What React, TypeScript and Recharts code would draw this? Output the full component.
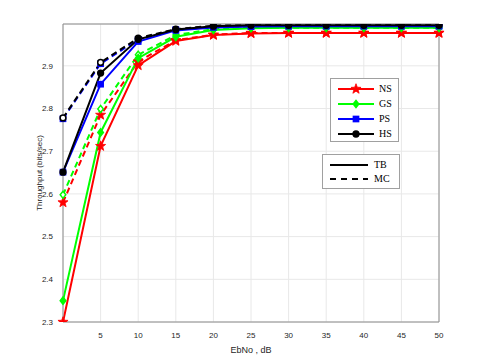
import { CartesianGrid, Line, LineChart, ReferenceLine, XAxis, YAxis } from 'recharts';

const ebno = [0, 5, 10, 15, 20, 25, 30, 35, 40, 45, 50];
const nsTB = [2.3, 2.712, 2.901, 2.958, 2.972, 2.976, 2.977, 2.977, 2.977, 2.977, 2.977];
const nsMC = [2.58, 2.785, 2.91, 2.96, 2.973, 2.977, 2.977, 2.977, 2.977, 2.977, 2.977];
const gsTB = [2.35, 2.744, 2.918, 2.968, 2.984, 2.988, 2.989, 2.989, 2.989, 2.989, 2.989];
const gsMC = [2.598, 2.799, 2.926, 2.972, 2.986, 2.989, 2.989, 2.989, 2.989, 2.989, 2.989];
const psTB = [2.651, 2.857, 2.957, 2.983, 2.99, 2.992, 2.993, 2.993, 2.993, 2.993, 2.993];
const psMC = [2.776, 2.905, 2.962, 2.985, 2.991, 2.993, 2.993, 2.993, 2.993, 2.993, 2.993];
const hsTB = [2.651, 2.883, 2.962, 2.985, 2.993, 2.995, 2.995, 2.995, 2.995, 2.995, 2.995];
const hsMC = [2.778, 2.908, 2.965, 2.986, 2.994, 2.995, 2.995, 2.995, 2.995, 2.995, 2.995];

const xTicks = [5, 10, 15, 20, 25, 30, 35, 40, 45, 50];
const yTicks = [2.3, 2.4, 2.5, 2.6, 2.7, 2.8, 2.9];

const data = ebno.map((x, i) => ({
  x,
  nsTB: nsTB[i], nsMC: nsMC[i],
  gsTB: gsTB[i], gsMC: gsMC[i],
  psTB: psTB[i], psMC: psMC[i],
  hsTB: hsTB[i], hsMC: hsMC[i]
}));

type Kind = 'star' | 'diamond' | 'square' | 'circle';

function Marker({ kind, cx, cy, color, fill }: { kind: Kind; cx: number; cy: number; color: string; fill: string }) {
  if (kind === 'star') {
    const pts: string[] = [];
    for (let k = 0; k < 10; k++) {
      const r = k % 2 === 0 ? 5.3 : 2.2;
      const a = -Math.PI / 2 + (k * Math.PI) / 5;
      pts.push(`${cx + r * Math.cos(a)},${cy + r * Math.sin(a)}`);
    }
    return <polygon points={pts.join(' ')} fill={color} stroke={color} strokeWidth={0.8} />;
  }
  if (kind === 'diamond') {
    return (
      <polygon
        points={`${cx},${cy - 3.6} ${cx + 2.8},${cy} ${cx},${cy + 3.6} ${cx - 2.8},${cy}`}
        fill={fill}
        stroke={color}
        strokeWidth={1.5}
      />
    );
  }
  if (kind === 'square') {
    return <rect x={cx - 2.6} y={cy - 2.6} width={5.2} height={5.2} fill={fill} stroke={color} strokeWidth={1.5} />;
  }
  return <circle cx={cx} cy={cy} r={2.9} fill={fill} stroke={color} strokeWidth={1.5} />;
}

const dotFor = (name: string, kind: Kind, color: string, fill: string) => (props: any) => (
  <Marker key={`${name}-${props.index}`} kind={kind} cx={props.cx} cy={props.cy} color={color} fill={fill} />
);

// dashed (MC) curves first so the solid (TB) curves sit on top
const series = [
  { key: 'nsMC', color: '#ff0000', kind: 'star' as Kind, dashed: true },
  { key: 'gsMC', color: '#00ff00', kind: 'diamond' as Kind, dashed: true },
  { key: 'psMC', color: '#0000ff', kind: 'square' as Kind, dashed: true },
  { key: 'hsMC', color: '#000000', kind: 'circle' as Kind, dashed: true },
  { key: 'nsTB', color: '#ff0000', kind: 'star' as Kind, dashed: false },
  { key: 'gsTB', color: '#00ff00', kind: 'diamond' as Kind, dashed: false },
  { key: 'psTB', color: '#0000ff', kind: 'square' as Kind, dashed: false },
  { key: 'hsTB', color: '#000000', kind: 'circle' as Kind, dashed: false }
];

const legendItems = [
  { name: 'NS', color: '#ff0000', kind: 'star' as Kind },
  { name: 'GS', color: '#00ff00', kind: 'diamond' as Kind },
  { name: 'PS', color: '#0000ff', kind: 'square' as Kind },
  { name: 'HS', color: '#000000', kind: 'circle' as Kind }
];

const serif = '"Liberation Serif", "DejaVu Serif", serif';
const sans = '"Liberation Sans", Arial, sans-serif';

export default function App() {
  return (
    <div style={{ position: 'absolute', left: 0, top: 0, width: 485, height: 363, background: '#fff' }}>
      <LineChart width={485} height={363} data={data} margin={{ top: 24, right: 46, left: 0, bottom: 0 }}>
        <CartesianGrid stroke="#e8e8e8" />
        <XAxis
          dataKey="x"
          type="number"
          domain={[0, 50]}
          ticks={xTicks}
          height={41}
          tickLine={false}
          axisLine={{ stroke: '#8c8c8c' }}
          tick={{ fontSize: 8, fill: '#262626', fontFamily: sans }}
          tickMargin={4}
          label={{ value: 'EbNo , dB', position: 'insideBottom', offset: 10, fontSize: 9, fill: '#262626', fontFamily: sans }}
        />
        <YAxis
          type="number"
          domain={[2.3, 2.998]}
          ticks={yTicks}
          allowDataOverflow
          width={63}
          tickLine={false}
          axisLine={{ stroke: '#8c8c8c' }}
          tick={{ fontSize: 8, fill: '#262626', fontFamily: sans }}
          tickFormatter={(v: number) => v.toFixed(1)}
          tickMargin={4}
          label={{
            value: 'Throughput (bits/sec)',
            angle: -90,
            position: 'insideLeft',
            offset: 0,
            dx: 39,
            style: { textAnchor: 'middle', fontSize: 8, fill: '#262626', fontFamily: sans }
          }}
        />
        <ReferenceLine y={2.998} stroke="#8c8c8c" />
        <ReferenceLine x={50} stroke="#8c8c8c" />
        {series.map(s => (
          <Line
            key={s.key}
            dataKey={s.key}
            type="linear"
            stroke={s.color}
            strokeWidth={2}
            strokeDasharray={s.dashed ? '6 4' : undefined}
            dot={dotFor(s.key, s.kind, s.color, s.dashed && s.kind !== 'star' ? '#ffffff' : s.color)}
            isAnimationActive={false}
          />
        ))}
      </LineChart>

      <div
        style={{
          position: 'absolute',
          left: 330,
          top: 78,
          width: 69,
          height: 64,
          border: '1px solid #a0a0a0',
          background: '#fff',
          boxSizing: 'border-box'
        }}
      >
        {legendItems.map((it, i) => (
          <div key={it.name} style={{ position: 'absolute', left: 0, top: 3 + i * 15, height: 14, width: 68 }}>
            <svg width={44} height={14} style={{ position: 'absolute', left: 5, top: 0 }}>
              <line x1={2} y1={7} x2={38} y2={7} stroke={it.color} strokeWidth={2} />
              <Marker kind={it.kind} cx={20} cy={7} color={it.color} fill={it.color} />
            </svg>
            <span
              style={{
                position: 'absolute',
                left: 48,
                top: 0,
                lineHeight: '14px',
                fontSize: 10,
                fontFamily: serif,
                color: '#000'
              }}
            >
              {it.name}
            </span>
          </div>
        ))}
      </div>

      <div
        style={{
          position: 'absolute',
          left: 322,
          top: 154,
          width: 78,
          height: 35,
          border: '1px solid #a0a0a0',
          background: '#fff',
          boxSizing: 'border-box'
        }}
      >
        {['TB', 'MC'].map((name, i) => (
          <div key={name} style={{ position: 'absolute', left: 0, top: 3 + i * 14, height: 14, width: 77 }}>
            <svg width={44} height={14} style={{ position: 'absolute', left: 5, top: 0 }}>
              <line
                x1={2}
                y1={7}
                x2={40}
                y2={7}
                stroke="#000"
                strokeWidth={2}
                strokeDasharray={i === 1 ? '6 5' : undefined}
              />
            </svg>
            <span
              style={{
                position: 'absolute',
                left: 51,
                top: 0,
                lineHeight: '14px',
                fontSize: 10,
                fontFamily: serif,
                color: '#000'
              }}
            >
              {name}
            </span>
          </div>
        ))}
      </div>
    </div>
  );
}
